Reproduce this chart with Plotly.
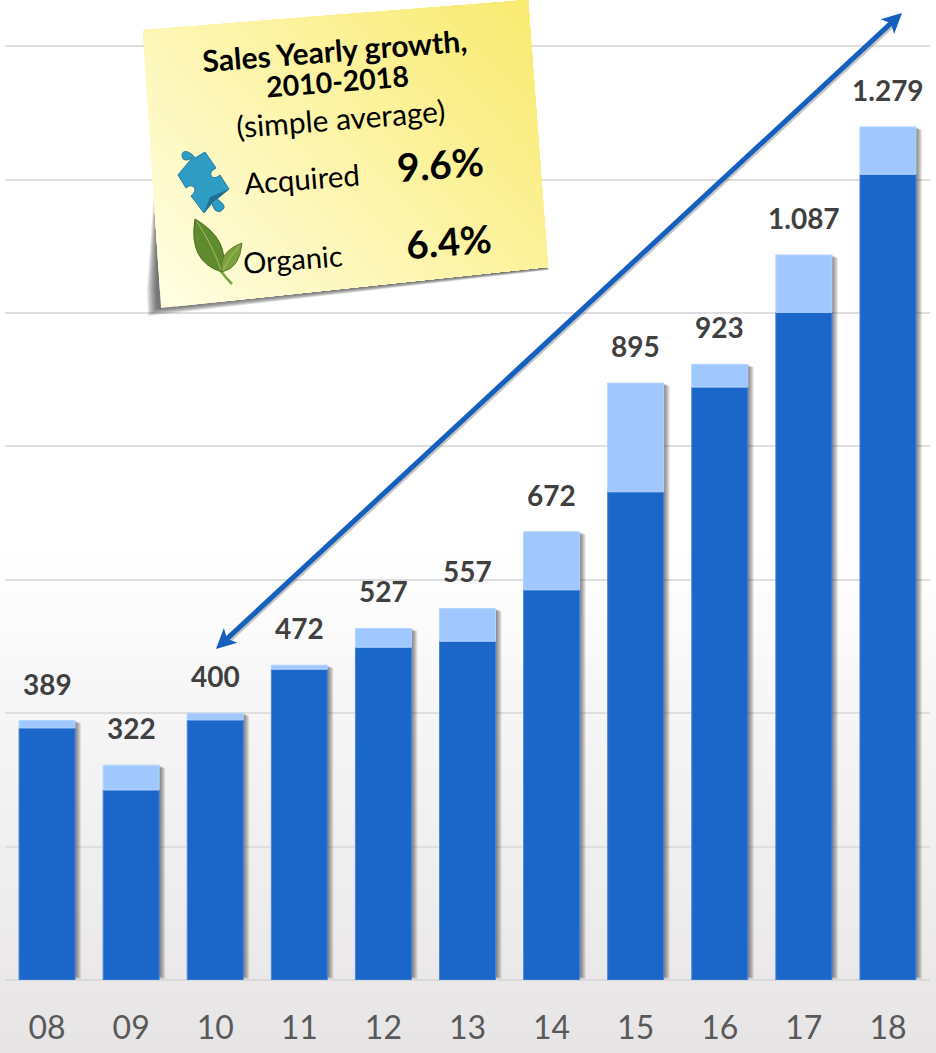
import plotly.graph_objects as go

# ---- data ----
years = ["08", "09", "10", "11", "12", "13", "14", "15", "16", "17", "18"]
organic_base = [378, 285, 390, 466, 499, 508, 585, 732, 889, 1001, 1208]
totals = [389, 322, 400, 472, 527, 557, 672, 895, 923, 1087, 1279]
total_labels = ["389", "322", "400", "472", "527", "557", "672", "895", "923", "1.087", "1.279"]
acquired = [t - b for t, b in zip(totals, organic_base)]

W, H = 936, 1053
BASE_PX = 980
PX_PER_UNIT = 0.667
CAT_PX = 925 / 11
FONT = "Lato"
DARK = "#1a66c9"
LIGHT = "#a0c8ff"


def fx(px):
    return px / W


def fy(py):
    return 1 - py / H


def path(points):
    return "M" + " L".join(f"{fx(x):.5f},{fy(y):.5f}" for x, y in points) + " Z"


def curve(cmds):
    """cmds: SVG-like list, (letter, x1, y1, ...) in pixels."""
    out = []
    for c in cmds:
        if c[0] == "Z":
            out.append("Z")
            continue
        vals = c[1:]
        pairs = [f"{fx(vals[i]):.5f},{fy(vals[i + 1]):.5f}" for i in range(0, len(vals), 2)]
        out.append(c[0] + " ".join(pairs))
    return " ".join(out)


def clip(poly, nx, ny, d):
    """keep points where nx*x+ny*y >= d"""
    res = []
    for i in range(len(poly)):
        a, b = poly[i], poly[(i + 1) % len(poly)]
        da = nx * a[0] + ny * a[1] - d
        db = nx * b[0] + ny * b[1] - d
        if da >= 0:
            res.append(a)
        if da * db < 0:
            t = da / (da - db)
            res.append((a[0] + t * (b[0] - a[0]), a[1] + t * (b[1] - a[1])))
    return res


def mix(c1, c2, t):
    return "rgb(" + ",".join(str(round(a + (b - a) * t)) for a, b in zip(c1, c2)) + ")"


shapes = []

# page background gradient
top_y, steps = 555, 24
for i in range(steps):
    y = top_y + (H - top_y) * i / steps
    shapes.append(dict(type="rect", xref="paper", yref="paper", x0=0, x1=1, y0=0, y1=fy(y), layer="below",
                       line_width=0, fillcolor=mix((255, 255, 255), (231, 229, 230), (i + 1) / steps)))

# sticky note shadow
for k in range(7):
    inset = k * 1.5
    poly = [(158, 140), (530, 200), (549 - inset * 0.3, 268 + 2 - inset * 0.2),
            (148 + inset, 316 - inset * 0.8), (147 + inset, 290)]
    shapes.append(dict(type="path", xref="paper", yref="paper", path=path(poly), layer="above",
                       line_width=0, fillcolor="rgba(40,40,40,0.13)"))

# sticky note with diagonal gradient
note = [(143, 30), (528, 0), (548, 267), (161, 308)]
nx, ny = 0.72, -0.69
ds = [nx * p[0] + ny * p[1] for p in note]
dmin, dmax = min(ds), max(ds)
n_bands = 40
for i in range(n_bands):
    t = i / n_bands
    poly = clip(note, nx, ny, dmin + (dmax - dmin) * t)
    if len(poly) >= 3:
        shapes.append(dict(type="path", xref="paper", yref="paper", path=path(poly), layer="above",
                           line_width=0, fillcolor=mix((255, 254, 226), (249, 234, 110), t)))

# puzzle piece
puzzle = curve([
    ("M", 192, 158), ("Q", 183, 163, 182, 156), ("Q", 182, 150, 188, 152), ("Q", 193, 154, 195, 158),
    ("L", 205, 152), ("L", 216, 168), ("Q", 208, 172, 212, 177), ("Q", 216, 179, 220, 175),
    ("L", 229, 189), ("L", 217, 199), ("Q", 225, 204, 224, 208), ("Q", 220, 214, 215, 210), ("Q", 212, 206, 212, 203),
    ("L", 204, 213), ("L", 191, 196), ("Q", 197, 191, 194, 187), ("Q", 190, 184, 186, 188),
    ("L", 178, 175), ("Z",),
])
shapes.append(dict(type="path", xref="paper", yref="paper", path=puzzle, layer="above",
                   line=dict(color="#1f7fa6", width=1), fillcolor="#2f9cc4"))
shapes.append(dict(type="path", xref="paper", yref="paper", layer="above", line_width=0, fillcolor="#1f6f95",
                   path=curve([("M", 210, 197), ("L", 229, 189), ("L", 217, 199), ("L", 212, 203), ("L", 204, 213), ("Z",)])))

# leaf
shapes.append(dict(type="path", xref="paper", yref="paper", layer="above", line=dict(color="#7ba13a", width=2.5),
                   path=curve([("M", 220, 270), ("Q", 226, 278, 232, 284)])))
shapes.append(dict(type="path", xref="paper", yref="paper", layer="above", line=dict(color="#4c6a20", width=1),
                   fillcolor="#5f8a2d",
                   path=curve([("M", 195, 219), ("Q", 231, 240, 222, 272), ("Q", 188, 262, 195, 219), ("Z",)])))
shapes.append(dict(type="path", xref="paper", yref="paper", layer="above", line=dict(color="#5b7f28", width=1),
                   fillcolor="#7ca13c",
                   path=curve([("M", 242, 243), ("Q", 240, 268, 222, 272), ("Q", 218, 252, 242, 243), ("Z",)])))
shapes.append(dict(type="path", xref="paper", yref="paper", layer="above", line=dict(color="#a7bf6a", width=1),
                   path=curve([("M", 197, 222), ("Q", 213, 246, 221, 270), ("M", 240, 245), ("Q", 230, 256, 223, 270)])))

# double-headed arrow
A = (216, 649)
B = (902, 13)
dx, dy = B[0] - A[0], B[1] - A[1]
L = (dx * dx + dy * dy) ** 0.5
ux, uy = dx / L, dy / L
hl, hw = 20, 10
shapes.append(dict(type="line", xref="paper", yref="paper", layer="above",
                   x0=fx(A[0] + ux * 12 + 2), y0=fy(A[1] + uy * 12 + 2), x1=fx(B[0] - ux * 12 + 2), y1=fy(B[1] - uy * 12 + 2),
                   line=dict(color="rgba(90,90,90,0.35)", width=4)))
shapes.append(dict(type="line", xref="paper", yref="paper", layer="above",
                   x0=fx(A[0] + ux * 12), y0=fy(A[1] + uy * 12), x1=fx(B[0] - ux * 12), y1=fy(B[1] - uy * 12),
                   line=dict(color="#1560bd", width=5)))
for tip, s in ((B, -1), (A, 1)):
    bx, by = tip[0] + s * ux * hl, tip[1] + s * uy * hl
    nbx, nby = tip[0] + s * ux * hl * 0.75, tip[1] + s * uy * hl * 0.75
    head = [tip, (bx - uy * hw, by + ux * hw), (nbx, nby), (bx + uy * hw, by - ux * hw)]
    shapes.append(dict(type="path", xref="paper", yref="paper", layer="above", path=path(head),
                       line_width=0, fillcolor="#1560bd"))

fig = go.Figure()

# soft bar shadows
for k in range(1, 7):
    fig.add_trace(go.Bar(x=years, y=[t - 4 / PX_PER_UNIT for t in totals], base=[4 / PX_PER_UNIT - k * 0.45 / PX_PER_UNIT] * len(years),
                         width=(56 - 3) / CAT_PX, offset=(-28 + 3 + k) / CAT_PX,
                         marker=dict(color="rgba(30,30,30,0.11)", line_width=0), cliponaxis=False,
                         hoverinfo="skip", showlegend=False))
# stacked bars
fig.add_trace(go.Bar(x=years, y=organic_base, name="Organic base", width=56 / CAT_PX, offset=-28 / CAT_PX,
                     marker=dict(color=DARK, line=dict(color="#4a86d8", width=1)), showlegend=False))
fig.add_trace(go.Bar(x=years, y=acquired, base=organic_base, name="Acquired", width=56 / CAT_PX, offset=-28 / CAT_PX,
                     marker=dict(color=LIGHT, line=dict(color="#b4d4ff", width=1)), showlegend=False))

annotations = []
for i, (total, lab) in enumerate(zip(totals, total_labels)):
    annotations.append(dict(x=i, y=total, xref="x", yref="y", text=f"<b>{lab}</b>", showarrow=False, yshift=37,
                            yanchor="middle", xanchor="center", font=dict(family=FONT, size=28, color="#404040")))


def note_text(txt, x, y, size, bold=False):
    annotations.append(dict(xref="paper", yref="paper", x=fx(x), y=fy(y), text=f"<b>{txt}</b>" if bold else txt,
                            showarrow=False, textangle=-4.5, xanchor="center", yanchor="middle",
                            font=dict(family=FONT, size=size, color="#000000")))


note_text("Sales Yearly growth,", 334, 50, 30, True)
note_text("2010-2018", 337, 81, 28.5, True)
note_text("(simple average)", 340, 118, 30)
note_text("Acquired", 302, 178, 29.5)
note_text("Organic", 293, 259, 29)
note_text("9.6%", 440, 164, 39, True)
note_text("6.4%", 448, 241, 38.5, True)

fig.update_layout(
    width=W, height=H, margin=dict(l=0, r=0, t=0, b=0), barmode="overlay", showlegend=False,
    paper_bgcolor="rgba(0,0,0,0)", plot_bgcolor="rgba(0,0,0,0)",
    shapes=shapes, annotations=annotations,
    xaxis=dict(domain=[fx(5), fx(930)], type="category", range=[-0.5, 10.5], showgrid=False, zeroline=False, showline=False,
               ticks="", ticklabelstandoff=26, tickfont=dict(family=FONT, size=32, color="#595959")),
    yaxis=dict(domain=[1 - BASE_PX / H, 1], range=[0, BASE_PX / PX_PER_UNIT], dtick=200, tick0=0, showticklabels=False,
               showgrid=True, gridcolor="#dfdfdf", gridwidth=2, zeroline=True, zerolinecolor="#d9d9d9", zerolinewidth=2),
)

fig.write_html("out.html", config={"displayModeBar": False},
               post_script="document.body.style.margin='0';document.body.style.overflow='hidden';")
